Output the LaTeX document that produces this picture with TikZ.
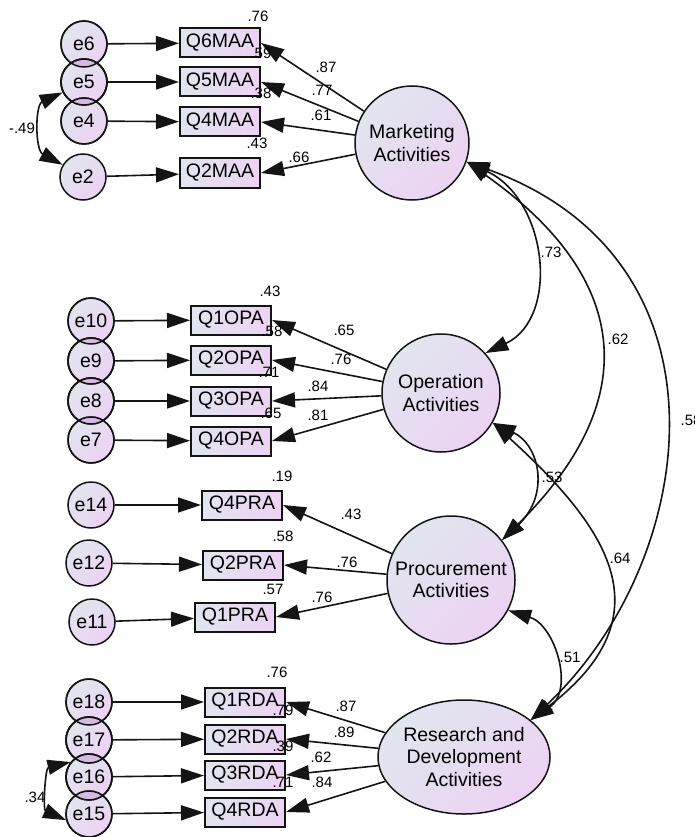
\documentclass[tikz,border=0pt]{standalone}
\usepackage{fontspec}
\setmainfont{Liberation Sans}
\usetikzlibrary{arrows.meta,shapes.geometric}

\definecolor{shadeA}{RGB}{225,229,238}
\definecolor{shadeB}{RGB}{236,211,243}
\definecolor{lensfill}{RGB}{214,186,228}
\definecolor{inkline}{RGB}{20,20,20}

\newcommand{\namefont}{\fontsize{19.5}{22.5}\selectfont}
\newcommand{\estfont}{\fontsize{15}{17}\selectfont}

\tikzset{
  tip/.style={-{Triangle[length=23pt,width=15pt]}},
  bitip/.style={{Triangle[length=23pt,width=15pt]}-{Triangle[length=23pt,width=15pt]}},
  link/.style={line width=1.6pt, draw=inkline},
  latent/.style={circle, draw=inkline, line width=1.5pt, inner sep=0pt, align=center,
    top color=shadeA, bottom color=shadeB, shading angle=45, font=\namefont},
  latentoval/.style={ellipse, draw=inkline, line width=1.5pt, inner sep=0pt, align=center,
    top color=shadeA, bottom color=shadeB, shading angle=45, font=\namefont},
  errvar/.style={circle, draw=inkline, line width=1.5pt, minimum size=46pt, inner sep=0pt,
    top color=shadeA, bottom color=shadeB, shading angle=45, font=\namefont},
  item/.style={rectangle, draw=inkline, line width=2pt, minimum width=80pt, minimum height=29pt,
    inner sep=0pt, left color=shadeA, right color=shadeB, font=\namefont},
  est/.style={font=\estfont, inner sep=0pt},
}

\begin{document}
\begin{tikzpicture}[x=1pt, y=-1pt]
  \fill[white] (0,0) rectangle (695,837);
  \useasboundingbox (0,0) rectangle (695,837);

  % latent factors
  \node[latent, minimum size=114pt] (MA) at (412,143) {Marketing\\Activities};
  \node[latent, minimum size=118pt] (OA) at (441,393) {Operation\\Activities};
  \node[latent, minimum size=128pt] (PA) at (451,580) {Procurement\\Activities};
  \node[latentoval, minimum width=172pt, minimum height=114pt] (RD) at (464,757)
    {Research and\\Development\\Activities};

  % error terms
  \node[errvar] (e6) at (84,44) {e6};
  \node[errvar] (e5) at (84,82) {e5};
  \node[errvar] (e4) at (84,121) {e4};
  \node[errvar] (e2) at (83,177) {e2};
  \node[errvar] (e10) at (91,321) {e10};
  \node[errvar] (e9) at (91,361) {e9};
  \node[errvar] (e8) at (91,401) {e8};
  \node[errvar] (e7) at (91,440) {e7};
  \node[errvar] (e14) at (91,505) {e14};
  \node[errvar] (e12) at (89,563) {e12};
  \node[errvar] (e11) at (92,622) {e11};
  \node[errvar] (e18) at (89,702) {e18};
  \node[errvar] (e17) at (89,740) {e17};
  \node[errvar] (e16) at (89,777) {e16};
  \node[errvar] (e15) at (89,814) {e15};

  % overlapping error circles: darker lens and both outlines
  \foreach \a/\b in {e6/e5,e5/e4,e10/e9,e9/e8,e8/e7,e18/e17,e17/e16,e16/e15}{
    \begin{scope}
      \clip (\a.center) circle[radius=23];
      \fill[lensfill] (\b.center) circle[radius=23];
    \end{scope}
    \draw[line width=1.5pt, inkline] (\a.center) circle[radius=23] (\b.center) circle[radius=23];
  }

  % observed items
  \node[item] (Q6MAA) at (220,43) {Q6MAA};
  \node[item] (Q5MAA) at (220,82) {Q5MAA};
  \node[item] (Q4MAA) at (220,122) {Q4MAA};
  \node[item] (Q2MAA) at (220,173) {Q2MAA};
  \node[item] (Q1OPA) at (231,320) {Q1OPA};
  \node[item] (Q2OPA) at (231,360) {Q2OPA};
  \node[item] (Q3OPA) at (231,401) {Q3OPA};
  \node[item] (Q4OPA) at (231,441) {Q4OPA};
  \node[item] (Q4PRA) at (242,505) {Q4PRA};
  \node[item] (Q2PRA) at (243,565) {Q2PRA};
  \node[item] (Q1PRA) at (235,617) {Q1PRA};
  \node[item] (Q1RDA) at (245,702) {Q1RDA};
  \node[item] (Q2RDA) at (245,739) {Q2RDA};
  \node[item] (Q3RDA) at (245,775) {Q3RDA};
  \node[item] (Q4RDA) at (245,812) {Q4RDA};

  % error -> item
  \foreach \e/\q in {e6/Q6MAA,e5/Q5MAA,e4/Q4MAA,e2/Q2MAA,
                     e10/Q1OPA,e9/Q2OPA,e8/Q3OPA,e7/Q4OPA,
                     e14/Q4PRA,e12/Q2PRA,e11/Q1PRA,
                     e18/Q1RDA,e17/Q2RDA,e16/Q3RDA,e15/Q4RDA}
    \draw[link,tip] (\e) -- (\q);

  % factor -> item loadings
  \foreach \f/\q in {MA/Q6MAA,MA/Q5MAA,MA/Q4MAA,MA/Q2MAA,
                     OA/Q1OPA,OA/Q2OPA,OA/Q3OPA,OA/Q4OPA,
                     PA/Q4PRA,PA/Q2PRA,PA/Q1PRA,
                     RD/Q1RDA,RD/Q2RDA,RD/Q3RDA,RD/Q4RDA}
    \draw[link,tip] (\f) -- (\q.east);

  % factor covariances
  \draw[link,bitip] (MA.-19) .. controls (548,200) and (560,318) .. (OA.42);
  \draw[link,bitip] (MA.-19) .. controls (620,270) and (653,390) .. (PA.38);
  \draw[link,bitip] (MA.-19) .. controls (740,260) and (700,560) .. (RD.29);
  \draw[link,bitip] (OA.-30) .. controls (540,445) and (550,495) .. (PA.38);
  \draw[link,bitip] (OA.-30) .. controls (608,528) and (668,615) .. (RD.29);
  \draw[link,bitip] (PA.-28) .. controls (555,625) and (575,690) .. (RD.29);

  % error covariances
  \draw[link,bitip] (e5.206) .. controls (35,105) and (35,150) .. (e2.149);
  \draw[link,bitip] (e16.141) .. controls (45,768) and (43,810) .. (e15.195);

  % squared multiple correlations
  \node[est] (r6m) at (258,16) {.76};
  \node[est] (r5m) at (261,53) {.59};
  \node[est] (r4m) at (261,93) {.38};
  \node[est] (r2m) at (257,143) {.43};
  \node[est] (r1o) at (270,291) {.43};
  \node[est] (r2o) at (272,331) {.58};
  \node[est] (r3o) at (269,372) {.71};
  \node[est] (r4o) at (271,413) {.65};
  \node[est] (r4p) at (282,476) {.19};
  \node[est] (r2p) at (283,536) {.58};
  \node[est] (r1p) at (273,589) {.57};
  \node[est] (r1r) at (277,672) {.76};
  \node[est] (r2r) at (283,710) {.79};
  \node[est] (r3r) at (283,746) {.39};
  \node[est] (r4r) at (283,782) {.71};

  % standardized loadings
  \node[est] (l6m) at (326,67) {.87};
  \node[est] (l5m) at (322,90) {.77};
  \node[est] (l4m) at (321,115) {.61};
  \node[est] (l2m) at (299,157) {.66};
  \node[est] (l1o) at (344,330) {.65};
  \node[est] (l2o) at (341,359) {.76};
  \node[est] (l3o) at (318,386) {.84};
  \node[est] (l4o) at (318,415) {.81};
  \node[est] (l4p) at (351,514) {.43};
  \node[est] (l2p) at (347,562) {.76};
  \node[est] (l1p) at (322,597) {.76};
  \node[est] (l1r) at (346,706) {.87};
  \node[est] (l2r) at (344,732) {.89};
  \node[est] (l3r) at (321,757) {.62};
  \node[est] (l4r) at (322,782) {.84};

  % correlations
  \node[est] (cMO) at (551,252) {.73};
  \node[est] (cMP) at (618,339) {.62};
  \node[est] (cMR) at (691,420) {.58};
  \node[est] (cOP) at (552,477) {.53};
  \node[est] (cOR) at (620,558) {.64};
  \node[est] (cPR) at (570,657) {.51};
  \node[est] (ce52) at (22,128) {-.49};
  \node[est] (ce65) at (35,797) {.34};
\end{tikzpicture}
\end{document}
